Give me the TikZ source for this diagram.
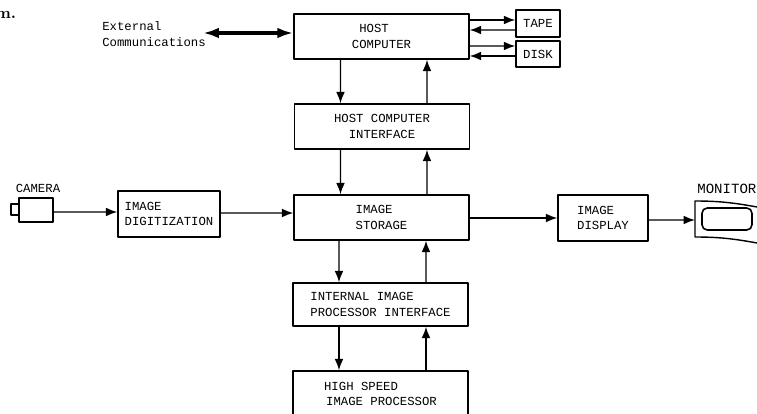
\documentclass[tikz,border=0pt]{standalone}
\usepackage{fontspec}
\setmonofont{Liberation Mono}
\usetikzlibrary{arrows.meta}
\tikzset{
  blockbox/.style={draw,line width=0.8pt,inner sep=0pt,align=left,
    font=\ttfamily\fontsize{7}{8.6}\selectfont},
  mainbox/.style={blockbox,minimum width=3.5cm,minimum height=0.9cm},
  sidebox/.style={blockbox,minimum width=2cm,minimum height=0.92cm},
  label/.style={inner sep=0pt,align=left,font=\ttfamily\fontsize{7}{9}\selectfont},
  sig/.style={line width=0.8pt,-{Latex[length=6.5pt,width=5pt]}}
}
\begin{document}
\begin{tikzpicture}[line cap=round,line join=round]
  \useasboundingbox (0,0) rectangle (15.14,8.28);
  \node[mainbox] (host) at (7.63,7.55) {\ HOST\\COMPUTER};
  \node[mainbox] (hostif) at (7.64,5.75) {HOST COMPUTER\\\ \ INTERFACE};
  \node[mainbox] (storage) at (7.63,3.93) {IMAGE\\STORAGE};
  \node[mainbox,minimum height=0.86cm] (internal) at (7.61,2.19) {INTERNAL IMAGE\\PROCESSOR INTERFACE};
  \node[mainbox,minimum height=0.92cm] (speed) at (7.61,0.40) {HIGH SPEED\\\,IMAGE PROCESSOR};
  \node[blockbox,minimum width=0.88cm,minimum height=0.54cm] (tape) at (10.76,7.81) {TAPE};
  \node[blockbox,minimum width=0.88cm,minimum height=0.52cm] (disk) at (10.76,7.20) {DISK};
  \node[sidebox,minimum width=2.04cm] (digit) at (3.38,4.00) {IMAGE\\DIGITIZATION};
  \node[sidebox,minimum width=1.8cm] (display) at (12.06,3.92) {IMAGE\\DISPLAY};
  \node[blockbox,minimum width=0.68cm,minimum height=0.48cm] (camera) at (0.72,4.08) {};
  \node[blockbox,minimum width=0.16cm,minimum height=0.22cm] (lens) at (0.30,4.09) {};
  \node[label] (cameratext) at (0.76,4.52) {CAMERA};
  \node[label,anchor=west,font=\ttfamily\fontsize{8}{9}\selectfont] (monitortext) at (13.94,4.50) {MONITOR};
  \node[label,anchor=west] (extern) at (2.04,7.60) {External\\Communications};
  \node[label,anchor=east,font=\bfseries\fontsize{9}{9}\selectfont] (fragment) at (0.33,7.98) {m.};
  % monitor
  \draw[line width=0.8pt] (15.14,4.14) .. controls (14.7,4.22) and (14.4,4.26) .. (13.9,4.26) -- (13.9,3.54) .. controls (14.4,3.54) and (14.7,3.5) .. (15.14,3.42);
  \node[draw,line width=0.9pt,rounded corners=3pt,minimum width=1cm,minimum height=0.44cm] (screen) at (14.54,3.9) {};
  \coordinate (monitorin) at (13.9,3.88);
  \coordinate (outside) at (4.06,7.62);
  % connectors
  \draw[line width=2pt,{Latex[length=9pt,width=6pt]}-{Latex[length=9pt,width=6pt]}] (outside) -- ([yshift=0.07cm]host.west);
  \draw[sig] ([yshift=0.33cm]host.east) -- ([yshift=0.07cm]tape.west);
  \draw[sig] ([yshift=-0.13cm]tape.west) -- ([yshift=0.13cm]host.east);
  \draw[sig] ([yshift=-0.19cm]host.east) -- ([yshift=0.16cm]disk.west);
  \draw[sig] ([yshift=-0.04cm]disk.west) -- ([yshift=-0.39cm]host.east);
  \draw[sig] ([xshift=-0.82cm]host.south) -- ([xshift=-0.83cm]hostif.north);
  \draw[sig] ([xshift=0.90cm]hostif.north) -- ([xshift=0.91cm]host.south);
  \draw[sig] ([xshift=-0.83cm]hostif.south) -- ([xshift=-0.82cm]storage.north);
  \draw[sig] ([xshift=0.91cm]storage.north) -- ([xshift=0.90cm]hostif.south);
  \draw[sig] ([xshift=-0.85cm]storage.south) -- ([xshift=-0.83cm]internal.north);
  \draw[sig] ([xshift=0.91cm]internal.north) -- ([xshift=0.89cm]storage.south);
  \draw[sig] ([xshift=-0.83cm]internal.south) -- ([xshift=-0.83cm]speed.north);
  \draw[sig] ([xshift=0.91cm]speed.north) -- ([xshift=0.91cm]internal.south);
  \draw[sig] ([yshift=-0.04cm]camera.east) -- ([yshift=0.04cm]digit.west);
  \draw[sig] ([yshift=0.02cm]digit.east) -- ([yshift=0.09cm]storage.west);
  \draw[sig] ([yshift=-0.01cm]storage.east) -- (display.west);
  \draw[sig] ([yshift=-0.04cm]display.east) -- (monitorin);
\end{tikzpicture}
\end{document}
